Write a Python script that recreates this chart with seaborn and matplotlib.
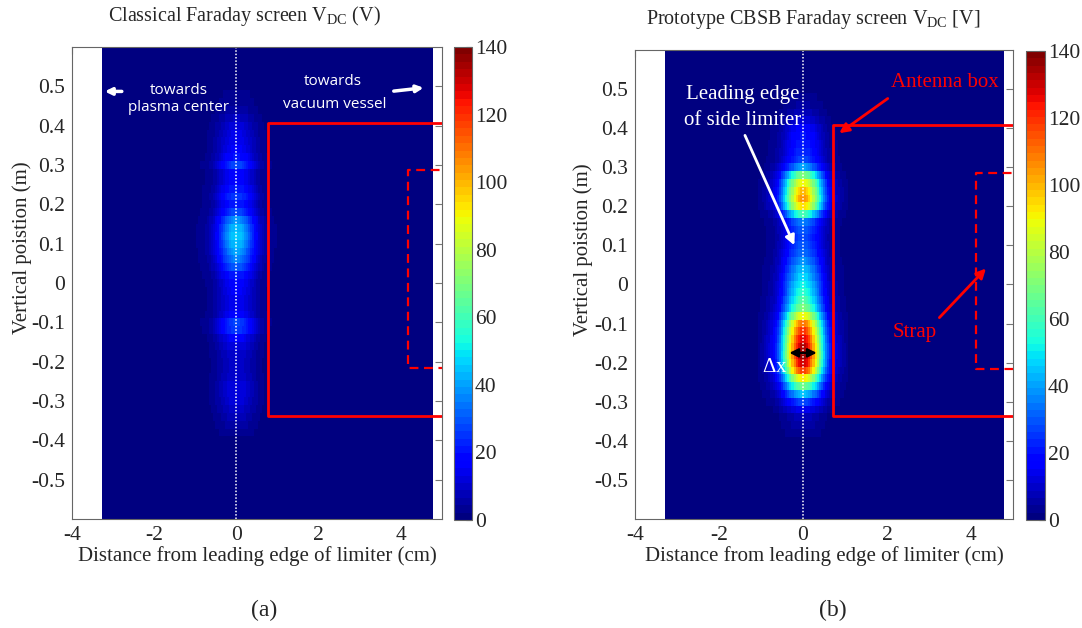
import numpy as np
import pandas as pd
import matplotlib
matplotlib.use('Agg')
import matplotlib.pyplot as plt
import seaborn as sns

# grid of the probe map: rows (m, top to bottom) and columns (cm)
y_rows = np.round(np.linspace(0.6, -0.6, 61), 2)
x_cols = np.round(np.linspace(-3.25, 4.75, 161), 3)

# V_DC on the limiter line x = 0, one value per row (0.60 ... -0.60)
peak_classical = [1, 1, 1, 1, 1, 1, 3, 4,
                  6, 9, 12, 14, 15, 16, 20, 28, 18, 18,
                  22, 26, 22, 28, 38, 44, 46, 44, 40, 36,
                  30, 22, 18, 16, 15, 15, 18, 27, 26, 17,
                  13, 11, 10, 10, 11, 13, 13, 12, 10, 8,
                  6, 4,
                  1, 1, 1, 1, 1, 1, 1, 1, 1, 1, 1]
peak_cbsb = [1, 1, 1, 1, 1, 1, 3, 5,
             8, 12, 18, 20, 22, 24, 28, 40, 70, 90,
             100, 105, 95, 60, 35, 30, 28, 30, 32, 38,
             44, 48, 52, 56, 62, 70, 90, 110, 120, 128,
             134, 136, 130, 118, 92, 68, 45, 28, 15, 8,
             6, 4,
             1, 1, 1, 1, 1, 1, 1, 1, 1, 1, 1]
# relative drop of V_DC away from x = 0, every 0.05 cm
lateral_falloff = [1.00, 0.99, 0.96, 0.91, 0.84, 0.76, 0.68, 0.59, 0.50,
                   0.42, 0.34, 0.27, 0.21, 0.165, 0.13, 0.10, 0.08, 0.065,
                   0.05, 0.04, 0.03, 0.02, 0.012, 0.006]
background = 0.5

cbar_ticks = [0, 20, 40, 60, 80, 100, 120, 140]
x_ticks = [-4, -2, 0, 2, 4]
y_ticks = [-0.5, -0.4, -0.3, -0.2, -0.1, 0, 0.1, 0.2, 0.3, 0.4, 0.5]

dx, dy = 0.05, 0.02


def ix(x):
    return (x - (x_cols[0] - dx / 2)) / dx


def iy(y):
    return (y_rows[0] + dy / 2 - y) / dy


def build_map(peak):
    off = np.rint(np.abs(x_cols) / dx).astype(int)
    prof = np.array(lateral_falloff + [0.0] * (off.max() + 1 - len(lateral_falloff)))
    vals = background + (np.array(peak, float)[:, None] - background) * prof[off][None, :]
    return pd.DataFrame(vals, index=y_rows, columns=x_cols)


sns.set_style('white')
plt.rcParams['font.family'] = ['Liberation Serif', 'DejaVu Serif']
plt.rcParams['mathtext.fontset'] = 'custom'
plt.rcParams['mathtext.rm'] = 'Liberation Serif'
plt.rcParams['mathtext.it'] = 'Liberation Serif:italic'

cmap = plt.get_cmap('jet', 64)
fig = plt.figure(figsize=(10.82, 6.28), dpi=100)


def panel(ax_rect, cb_rect, peak, title, title_x, ylab_x, tag, tag_x):
    ax = fig.add_axes(ax_rect)
    cax = fig.add_axes(cb_rect)
    sns.heatmap(build_map(peak), ax=ax, cbar_ax=cax, cmap=cmap, vmin=0, vmax=140,
                xticklabels=False, yticklabels=False)
    ax.set_xlim(ix(-4), ix(5))
    ax.set_ylim(iy(-0.6), iy(0.6))
    ax.set_xticks([ix(v) for v in x_ticks])
    ax.set_xticklabels([str(v) for v in x_ticks])
    ax.set_yticks([iy(v) for v in y_ticks])
    ax.set_yticklabels(['0' if v == 0 else f'{v:g}' for v in y_ticks])
    ax.tick_params(direction='in', top=True, right=True, length=5, width=0.8,
                   color='#777777', labelsize=15.5, pad=5)
    for s in ax.spines.values():
        s.set_visible(True)
        s.set_color('#666666')
        s.set_linewidth(0.8)
    ax.set_xlabel('Distance from leading edge of limiter (cm)', fontsize=15, labelpad=1)
    ax.set_ylabel('Vertical poistion (m)', fontsize=15)
    ax.yaxis.set_label_coords(ylab_x, 0.574)
    ax.text(title_x, 1.04, title, transform=ax.transAxes, ha='center',
            va='bottom', fontsize=14.5)
    fig.text(tag_x, 0.028, tag, ha='center', va='center', fontsize=17)

    # limiter line
    ax.axvline(ix(0), color='white', lw=1.1, ls=(0, (1, 1.2)))

    cb = ax.collections[0].colorbar
    cb.set_ticks(cbar_ticks)
    cb.outline.set_linewidth(0.8)
    cb.outline.set_edgecolor('#666666')
    cax.tick_params(direction='in', length=4, width=0.8, color='#444444',
                    labelsize=15.5, pad=2)
    return ax


ax1 = panel([0.0665, 0.1736, 0.342, 0.7516], [0.4196, 0.172, 0.0166, 0.753],
            peak_classical, r'Classical Faraday screen V$_{\mathrm{DC}}$ (V)', 0.465,
            -0.108, '(a)', 264 / 1082)
ax2 = panel([0.5869, 0.1736, 0.3494, 0.7468], [0.9482, 0.172, 0.0176, 0.747],
            peak_cbsb, r'Prototype CBSB Faraday screen V$_{\mathrm{DC}}$ [V]', 0.471,
            -0.112, '(b)', 833 / 1082)

# antenna box and strap outlines
for ax, bx, st, sy in [(ax1, 0.76, 4.18, (0.286, -0.215)),
                       (ax2, 0.72, 4.12, (0.284, -0.215))]:
    ax.plot([ix(5.3), ix(bx), ix(bx), ix(5.3)],
            [iy(0.407), iy(0.407), iy(-0.337), iy(-0.337)], color='red', lw=2)
    ax.plot([ix(5.3), ix(st), ix(st), ix(5.3)],
            [iy(sy[0]), iy(sy[0]), iy(sy[1]), iy(sy[1])], color='red', lw=1.6,
            ls=(0, (4, 2.5)))

# panel (a) notes
sans = ['Open Sans', 'DejaVu Sans']
ax1.text(ix(-1.4), iy(0.49), 'towards', color='white', family=sans,
         fontsize=11, ha='center', va='center')
ax1.text(ix(-1.4), iy(0.447), 'plasma center', color='white', family=sans,
         fontsize=11, ha='center', va='center')
ax1.annotate('', xy=(ix(-3.27), iy(0.487)), xytext=(ix(-2.72), iy(0.487)),
             arrowprops=dict(arrowstyle='-|>', color='white', lw=2.5, mutation_scale=10))
ax1.text(ix(2.35), iy(0.512), 'towards', color='white', family=sans,
         fontsize=11, ha='center', va='center')
ax1.text(ix(2.38), iy(0.455), 'vacuum vessel', color='white', family=sans,
         fontsize=11, ha='center', va='center')
ax1.annotate('', xy=(ix(4.62), iy(0.497)), xytext=(ix(3.76), iy(0.487)),
             arrowprops=dict(arrowstyle='-|>', color='white', lw=2.5, mutation_scale=10))

# panel (b) notes
ax2.text(ix(-1.44), iy(0.485), 'Leading edge', color='white', fontsize=15,
         ha='center', va='center')
ax2.text(ix(-1.44), iy(0.42), 'of side limiter', color='white', fontsize=15,
         ha='center', va='center')
ax2.annotate('', xy=(ix(-0.18), iy(0.094)), xytext=(ix(-1.41), iy(0.388)),
             arrowprops=dict(arrowstyle='-|>', color='white', lw=2, mutation_scale=14))
ax2.text(ix(3.37), iy(0.516), 'Antenna box', color='red', fontsize=15,
         ha='center', va='center')
ax2.annotate('', xy=(ix(0.81), iy(0.383)), xytext=(ix(2.07), iy(0.48)),
             arrowprops=dict(arrowstyle='-|>', color='red', lw=2, mutation_scale=14))
ax2.text(ix(2.66), iy(-0.123), 'Strap', color='red', fontsize=15,
         ha='center', va='center')
ax2.annotate('', xy=(ix(4.4), iy(0.046)), xytext=(ix(3.2), iy(-0.09)),
             arrowprops=dict(arrowstyle='-|>', color='red', lw=2, mutation_scale=14))
ax2.annotate('', xy=(ix(0.39), iy(-0.175)), xytext=(ix(-0.39), iy(-0.175)),
             arrowprops=dict(arrowstyle='<|-|>', color='black', lw=1.6, mutation_scale=13))
ax2.text(ix(-0.68), iy(-0.212), r'$\Delta$x', color='white', fontsize=15,
         ha='center', va='center')

fig.savefig('out.png', dpi=100, facecolor='white')
